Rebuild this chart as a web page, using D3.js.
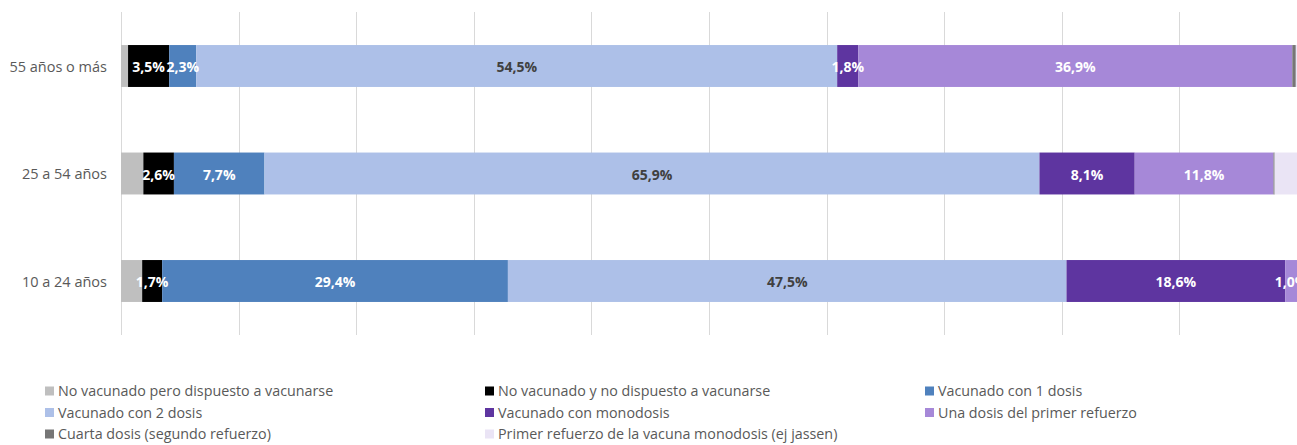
<!DOCTYPE html>
<html>
<head>
<meta charset="utf-8">
<script src="https://cdn.jsdelivr.net/npm/d3@7/dist/d3.min.js"></script>
<style>
  html, body { margin: 0; padding: 0; background: #fff; overflow: hidden; }
  svg { display: block; }
  text { font-family: "Open Sans", "Noto Sans", sans-serif; }
</style>
</head>
<body>
<svg id="chart" width="1297" height="445"></svg>
<script>
// Categories (top to bottom)
const categories = ["55 años o más", "25 a 54 años", "10 a 24 años"];

// Series names (stack order, left to right)
const seriesNames = [
  "No vacunado pero dispuesto a vacunarse",
  "No vacunado y no dispuesto a vacunarse",
  "Vacunado con 1 dosis",
  "Vacunado con 2 dosis",
  "Vacunado con monodosis",
  "Una dosis del primer refuerzo",
  "Cuarta dosis (segundo refuerzo)",
  "Primer refuerzo de la vacuna monodosis (ej jassen)"
];

// Values per series, in category order [55+, 25-54, 10-24]
const noVacDispuesto   = [0.6, 1.9, 1.8];
const noVacNoDispuesto = [3.5, 2.6, 1.7];
const vac1Dosis        = [2.3, 7.7, 29.4];
const vac2Dosis        = [54.5, 65.9, 47.5];
const vacMonodosis     = [1.8, 8.1, 18.6];
const primerRefuerzo   = [36.9, 11.8, 1.0];
const cuartaDosis      = [0.3, 0.1, 0.0];
const refuerzoMono     = [0.1, 1.9, 0.0];

// Which series show a data label
const labelled = [false, true, true, true, true, true, false, false];

const colors = ["#BFBFBF", "#000000", "#4F81BD", "#ADC0E8", "#5E35A0", "#A688D8", "#767676", "#EAE4F5"];
const labelColors = ["#fff", "#fff", "#fff", "#404040", "#fff", "#fff", "#fff", "#fff"];

const xTicks = [0, 10, 20, 30, 40, 50, 60, 70, 80, 90, 100];

const seriesValues = [noVacDispuesto, noVacNoDispuesto, vac1Dosis, vac2Dosis, vacMonodosis, primerRefuerzo, cuartaDosis, refuerzoMono];

const rows = categories.map((c, i) => {
  const o = { cat: c };
  seriesNames.forEach((s, j) => { o[s] = seriesValues[j][i]; });
  return o;
});

const svg = d3.select("#chart");

const x = d3.scaleLinear().domain([0, 100]).range([121, 1297]);
const y = d3.scaleBand().domain(categories).range([12.25, 334.75]).paddingInner(0.61).paddingOuter(0.305);

// gridlines
svg.append("g").selectAll("line").data(xTicks).join("line")
  .attr("x1", d => Math.round(x(d)) + 0.5).attr("x2", d => Math.round(x(d)) + 0.5)
  .attr("y1", 12).attr("y2", 335)
  .attr("stroke", "#D9D9D9").attr("stroke-width", 1);

// category axis
const yAxis = svg.append("g").attr("transform", "translate(121,1)")
  .call(d3.axisLeft(y).tickSize(0).tickPadding(14));
yAxis.select(".domain").remove();
yAxis.selectAll("text")
  .attr("fill", "#595959")
  .style("font-size", "14.5px")
  .style("font-family", "'Open Sans', sans-serif");

const stack = d3.stack().keys(seriesNames);
const stacked = stack(rows);

const groups = svg.append("g").selectAll("g").data(stacked).join("g")
  .attr("fill", (d, i) => colors[i]);

groups.selectAll("rect").data(d => d).join("rect")
  .attr("x", d => x(d[0]))
  .attr("width", d => Math.max(0, x(d[1]) - x(d[0])))
  .attr("y", d => y(d.data.cat))
  .attr("height", y.bandwidth());

// labels
const fmt = v => v.toFixed(1).replace(".", ",") + "%";
stacked.forEach((s, i) => {
  if (!labelled[i]) return;
  svg.append("g").selectAll("text").data(s).join("text")
    .attr("x", d => (x(d[0]) + x(d[1])) / 2)
    .attr("y", d => y(d.data.cat) + y.bandwidth() / 2 + 1)
    .attr("dy", "0.36em")
    .attr("text-anchor", "middle")
    .attr("fill", labelColors[i])
    .style("font-size", "14px")
    .style("font-weight", "bold")
    .text(d => fmt(d[1] - d[0]));
});

// legend
const legendCols = [45, 485, 925];
const legendRows = [391, 412.5, 434];
const leg = svg.append("g").selectAll("g").data(seriesNames).join("g")
  .attr("transform", (d, i) => `translate(${legendCols[i % 3]},${legendRows[Math.floor(i / 3)]})`);
leg.append("rect").attr("x", 0).attr("y", -4.5).attr("width", 9).attr("height", 9)
  .attr("fill", (d, i) => colors[i]);
leg.append("text").attr("x", 13).attr("y", 0).attr("dy", "0.35em")
  .attr("fill", "#595959").style("font-size", "14.3px")
  .text(d => d);
</script>
</body>
</html>
